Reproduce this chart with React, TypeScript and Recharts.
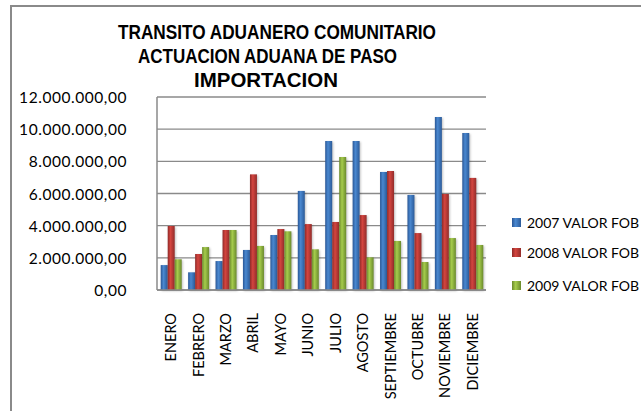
import React from 'react';
import { BarChart, Bar, XAxis, YAxis, CartesianGrid, Legend } from 'recharts';

const months = ['ENERO', 'FEBRERO', 'MARZO', 'ABRIL', 'MAYO', 'JUNIO', 'JULIO', 'AGOSTO', 'SEPTIEMBRE', 'OCTUBRE', 'NOVIEMBRE', 'DICIEMBRE'];
const v2007 = [1550000, 1100000, 1800000, 2490000, 3420000, 6160000, 9270000, 9270000, 7340000, 5910000, 10760000, 9760000];
const v2008 = [3980000, 2240000, 3730000, 7190000, 3790000, 4100000, 4230000, 4660000, 7400000, 3540000, 5970000, 6970000];
const v2009 = [1910000, 2670000, 3730000, 2740000, 3650000, 2530000, 8270000, 2030000, 3050000, 1740000, 3230000, 2800000];
const seriesNames = ['2007 VALOR FOB', '2008 VALOR FOB', '2009 VALOR FOB'];
const yTicks = [0, 2000000, 4000000, 6000000, 8000000, 10000000, 12000000];
const titleLines = ['TRANSITO ADUANERO COMUNITARIO', 'ACTUACION ADUANA DE PASO', 'IMPORTACION'];

const data = months.map((m, i) => ({ month: m, a: v2007[i], b: v2008[i], c: v2009[i] }));

const fmt = (v: number) => {
  const s = Math.round(v).toString().replace(/\B(?=(\d{3})+(?!\d))/g, '.');
  return s + ',00';
};

const FONT = 'Lato, "Open Sans", sans-serif';

const XTick = (props: any) => {
  const { x, y, payload } = props;
  const yy = y + 15;
  return (
    <text x={x} y={yy} transform={`rotate(-90 ${x} ${yy})`} textAnchor="end" dominantBaseline="central" fontFamily={FONT} fontSize={14.5} fill="#000">
      {payload.value}
    </text>
  );
};

const YTick = (props: any) => {
  const { y, payload } = props;
  const s = fmt(payload.value);
  return (
    <text x={127} y={y} textAnchor="end" dominantBaseline="central" fill="#000" style={{ fontFamily: FONT, fontSize: 15.5, letterSpacing: '0.55px' }}>
      {s}
    </text>
  );
};

const grads = ['gBlue', 'gRed', 'gGreen'];

const LegendContent = () => (
  <div style={{ position: 'relative' }}>
    {seriesNames.map((n, i) => (
      <div key={n} style={{ position: 'absolute', left: 0, top: [0, 30, 63][i], height: 20, whiteSpace: 'nowrap', display: 'flex', alignItems: 'center' }}>
        <svg width={9} height={9} style={{ marginRight: 6 }}>
          <rect x={0} y={0} width={9} height={9} fill={`url(#${grads[i]})`} />
        </svg>
        <span style={{ fontFamily: FONT, fontSize: 14, color: '#000' }}>{n}</span>
      </div>
    ))}
  </div>
);

const TF = '"Liberation Sans", Arial, sans-serif';

export default function App() {
  return (
    <div style={{ position: 'absolute', left: 0, top: 0, width: 641, height: 411, overflow: 'hidden', background: '#fff' }}>
      <div style={{ position: 'absolute', left: 10, top: 5, width: 800, height: 600, border: '2px solid #8a8a8a', boxSizing: 'border-box' }} />
      <svg style={{ position: 'absolute', left: 0, top: 0 }} width={641} height={100}>
        <text x={118} y={38.5} textLength={318} lengthAdjust="spacingAndGlyphs" fontFamily={TF} fontWeight="bold" fontSize={21} fill="#000">{titleLines[0]}</text>
        <text x={138} y={62.5} textLength={259} lengthAdjust="spacingAndGlyphs" fontFamily={TF} fontWeight="bold" fontSize={21} fill="#000">{titleLines[1]}</text>
        <text x={194} y={86.5} textLength={144} lengthAdjust="spacingAndGlyphs" fontFamily={TF} fontWeight="bold" fontSize={21} fill="#000">{titleLines[2]}</text>
      </svg>
      <div style={{ position: 'absolute', left: 0, top: 0 }}>
        <BarChart width={641} height={411} data={data} margin={{ top: 97, right: 155, bottom: 0, left: 0 }} barCategoryGap="13.5%" barGap={0}>
          <defs>
            <linearGradient id="gBlue" x1="0" y1="0" x2="1" y2="0">
              <stop offset="0%" stopColor="#2a5796" />
              <stop offset="40%" stopColor="#4a88d0" />
              <stop offset="100%" stopColor="#2b5a98" />
            </linearGradient>
            <linearGradient id="gRed" x1="0" y1="0" x2="1" y2="0">
              <stop offset="0%" stopColor="#8e2a28" />
              <stop offset="40%" stopColor="#d4453f" />
              <stop offset="100%" stopColor="#922c2a" />
            </linearGradient>
            <linearGradient id="gGreen" x1="0" y1="0" x2="1" y2="0">
              <stop offset="0%" stopColor="#6b8a2c" />
              <stop offset="40%" stopColor="#a6cc4c" />
              <stop offset="100%" stopColor="#6a8a2c" />
            </linearGradient>
          </defs>
          <CartesianGrid horizontal vertical={false} stroke="#8a8a8a" strokeWidth={1.3} />
          <XAxis dataKey="month" height={121} interval={0} tickLine={false} axisLine={{ stroke: '#8a8a8a', strokeWidth: 1.5 }} tick={<XTick />} />
          <YAxis width={157} domain={[0, 12000000]} ticks={yTicks} tickLine={false} axisLine={{ stroke: '#8a8a8a', strokeWidth: 1.5 }} tick={<YTick />} />
          <Legend content={<LegendContent />} wrapperStyle={{ position: 'absolute', left: 512, top: 212, width: 200 }} />
          <Bar dataKey="a" name={seriesNames[0]} fill="url(#gBlue)" isAnimationActive={false} style={{ filter: 'drop-shadow(1px 1px 1px rgba(0,0,0,0.25))' }} />
          <Bar dataKey="b" name={seriesNames[1]} fill="url(#gRed)" isAnimationActive={false} style={{ filter: 'drop-shadow(1px 1px 1px rgba(0,0,0,0.25))' }} />
          <Bar dataKey="c" name={seriesNames[2]} fill="url(#gGreen)" isAnimationActive={false} style={{ filter: 'drop-shadow(1px 1px 1px rgba(0,0,0,0.25))' }} />
        </BarChart>
      </div>
    </div>
  );
}
